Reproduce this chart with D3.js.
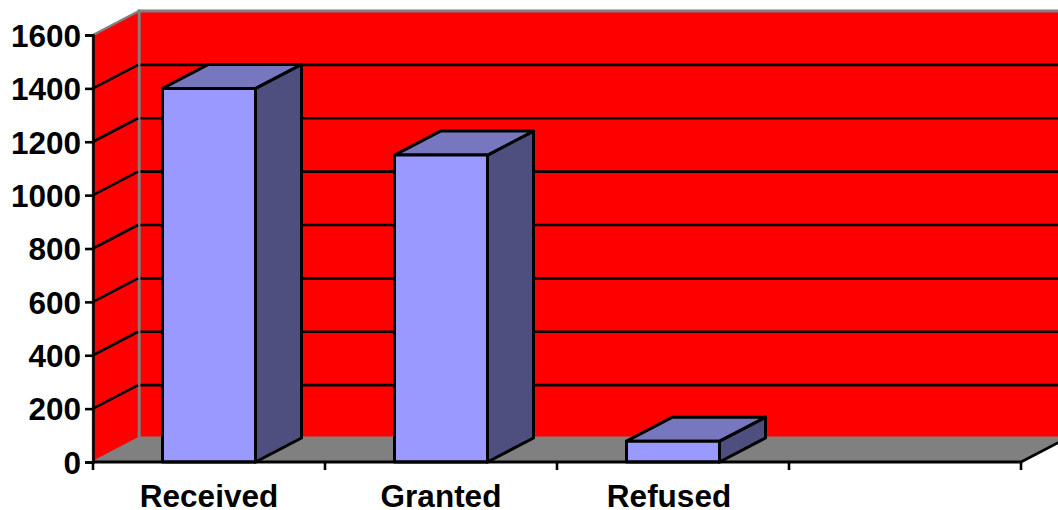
<!DOCTYPE html>
<html>
<head>
<meta charset="utf-8">
<script src="https://cdn.jsdelivr.net/npm/d3@7"></script>
<style>
  html, body { margin: 0; padding: 0; background: #fff; overflow: hidden; }
  text { font-family: "Liberation Sans", Arial, sans-serif; font-weight: bold; fill: #000; }
</style>
</head>
<body>
<div id="chart"></div>
<script>
// chart data
var categories = ["Received", "Granted", "Refused", ""];
var values = [1400, 1150, 78];
var yTicks = [0, 200, 400, 600, 800, 1000, 1200, 1400, 1600];

// global configs
var w = 1058;
var h = 510;
var depthX = 46;  // 3d offset of the back wall
var depthY = -24;
var fontSize = 31.5;

var svg = d3.select("#chart").append("svg")
  .attr("width", w)
  .attr("height", h)
  .style("display", "block");

var x = d3.scaleBand()
  .domain(categories)
  .range([93, 1021])
  .paddingInner(0)
  .paddingOuter(0);

var y = d3.scaleLinear()
  .domain([0, 1600])
  .range([462, 35]);

var x0 = x.range()[0];
var x1 = x.range()[1];
var yBottom = y(0);
var yTop = y(1600);

function pts(a) {
  return a.map(function(p) { return p.join(","); }).join(" ");
}

// Back wall, side wall and floor
svg.append("polygon")
  .attr("points", pts([[x0 + depthX, yTop + depthY], [x1 + depthX, yTop + depthY], [x1 + depthX, yBottom + depthY], [x0 + depthX, yBottom + depthY]]))
  .attr("fill", "#ff0000")
  .attr("stroke", "#808080")
  .attr("stroke-width", 3);

svg.append("polygon")
  .attr("points", pts([[x0, yTop], [x0 + depthX, yTop + depthY], [x0 + depthX, yBottom + depthY], [x0, yBottom]]))
  .attr("fill", "#ff0000")
  .attr("stroke", "#808080")
  .attr("stroke-width", 2.5);

svg.append("polygon")
  .attr("points", pts([[x0, yBottom], [x0 + depthX, yBottom + depthY], [x1 + depthX, yBottom + depthY], [x1, yBottom]]))
  .attr("fill", "#808080")
  .attr("stroke", "#808080")
  .attr("stroke-width", 1);

// Draw gridlines
var grid = yTicks.filter(function(d) { return d > 0 && d < 1600; });
svg.selectAll("line.grid")
  .data(grid)
  .enter()
  .append("line")
  .attr("class", "grid")
  .attr("x1", x0 + depthX + 1.5)
  .attr("x2", x1 + depthX)
  .attr("y1", function(d) { return y(d) + depthY + 0.5; })
  .attr("y2", function(d) { return y(d) + depthY + 0.5; })
  .attr("stroke", "#000")
  .attr("stroke-width", 2.6);

svg.selectAll("line.gridside")
  .data(grid)
  .enter()
  .append("line")
  .attr("class", "gridside")
  .attr("x1", x0)
  .attr("x2", x0 + depthX - 1)
  .attr("y1", function(d) { return y(d); })
  .attr("y2", function(d) { return y(d) + depthY + 0.5; })
  .attr("stroke", "#000")
  .attr("stroke-width", 2.6);

// floor front edge running off the picture
svg.append("line")
  .attr("x1", x1).attr("y1", yBottom)
  .attr("x2", x1 + depthX).attr("y2", yBottom + depthY)
  .attr("stroke", "#000")
  .attr("stroke-width", 2.6);

// Draw bars
var barW = 93;
var bars = svg.selectAll("g.bar")
  .data(values)
  .enter()
  .append("g")
  .attr("class", "bar")
  .attr("stroke", "#000")
  .attr("stroke-width", 3)
  .attr("stroke-linejoin", "round");

function barLeft(i) {
  return x(categories[i]) + (x.bandwidth() - barW) / 2;
}

bars.append("polygon")
  .attr("fill", "#4f4f7f")
  .attr("points", function(d, i) {
    var l = barLeft(i) + barW;
    return pts([[l, y(d)], [l + depthX, y(d) + depthY], [l + depthX, yBottom + depthY], [l, yBottom]]);
  });

bars.append("polygon")
  .attr("fill", "#7777bf")
  .attr("points", function(d, i) {
    var l = barLeft(i);
    return pts([[l, y(d)], [l + depthX, y(d) + depthY], [l + barW + depthX, y(d) + depthY], [l + barW, y(d)]]);
  });

bars.append("rect")
  .attr("fill", "#9999ff")
  .attr("x", function(d, i) { return barLeft(i); })
  .attr("y", function(d) { return y(d); })
  .attr("width", barW)
  .attr("height", function(d) { return yBottom - y(d); });

// Draw axes
var yAxis = d3.axisLeft(y).tickValues(yTicks).tickSize(8).tickPadding(4).tickFormat(d3.format("d"));
var gy = svg.append("g").attr("transform", "translate(" + x0 + ",0)").call(yAxis);
gy.selectAll("line").attr("stroke", "#000").attr("stroke-width", 2.6);
gy.select(".domain").attr("stroke", "#000").attr("stroke-width", 2.6);
gy.selectAll("text").attr("font-size", fontSize).attr("dy", "0.36em");

var gx = svg.append("g").attr("transform", "translate(0," + yBottom + ")");
gx.append("line")
  .attr("x1", x0).attr("x2", x1)
  .attr("stroke", "#000").attr("stroke-width", 3);
var xTicks = categories.map(function(c) { return x(c); }).concat([x1]);
gx.selectAll("line.tick")
  .data(xTicks)
  .enter()
  .append("line")
  .attr("class", "tick")
  .attr("x1", function(d) { return d; })
  .attr("x2", function(d) { return d; })
  .attr("y1", 0)
  .attr("y2", 8)
  .attr("stroke", "#000")
  .attr("stroke-width", 2.6);

// category labels, offset slightly as in the original
var labelShift = [0, 0, -4, 0];
gx.selectAll("text.cat")
  .data(categories)
  .enter()
  .append("text")
  .attr("class", "cat")
  .text(function(d) { return d; })
  .attr("x", function(d, i) { return x(d) + x.bandwidth() / 2 + labelShift[i]; })
  .attr("y", 45)
  .attr("text-anchor", "middle")
  .attr("font-size", fontSize);
</script>
</body>
</html>
